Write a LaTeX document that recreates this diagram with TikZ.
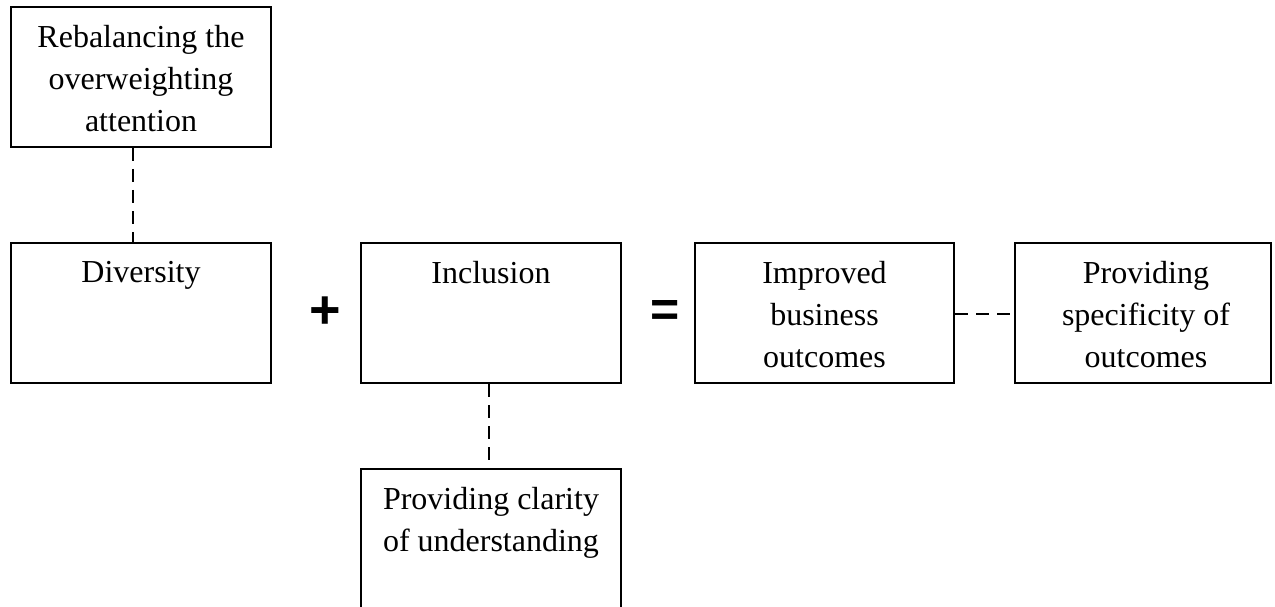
\documentclass[tikz,border=0pt]{standalone}
\usepackage{fontspec}
\setmainfont{Liberation Serif}
\newfontfamily\opfont{Liberation Sans}
\begin{document}
\begin{tikzpicture}[x=1pt,y=-1pt,
  box/.style={draw, line width=2pt, rectangle, inner sep=0pt},
  lbl/.style={anchor=north, inner sep=0pt, align=center, font=\fontsize{32}{42}\selectfont},
  op/.style={inner sep=0pt, font=\opfont\bfseries\fontsize{#1}{#1}\selectfont},
  dashline/.style={line width=2pt, dash pattern=on 13pt off 8pt}]
\clip (0,0) rectangle (1275,607);
% boxes
\node[box, minimum width=260pt, minimum height=140pt] (reb) at (141,77) {};
\node[box, minimum width=260pt, minimum height=140pt] (div) at (141,313) {};
\node[box, minimum width=260pt, minimum height=140pt] (inc) at (491,313) {};
\node[box, minimum width=259pt, minimum height=140pt] (imp) at (824.5,313) {};
\node[box, minimum width=256pt, minimum height=140pt] (spec) at (1143,313) {};
\node[box, minimum width=260pt, minimum height=151pt] (cla) at (491,544.5) {};
% texts
\node[lbl] (rebt) at ([yshift=-19pt]reb.north) {Rebalancing the\\overweighting\\attention};
\node[lbl] (divt) at ([yshift=-19pt]div.north) {Diversity};
\node[lbl] (inct) at ([yshift=-19pt]inc.north) {Inclusion};
\node[lbl] (impt) at ([yshift=-19pt]imp.north) {Improved\\business\\outcomes};
\node[lbl] (spect) at ([xshift=3pt,yshift=-19pt]spec.north) {Providing\\specificity of\\outcomes};
\node[lbl] (clat) at ([yshift=-19pt]cla.north) {Providing clarity\\of understanding};
% operators
\node[op=54] (plus) at (325,313) {+};
\node[op=50] (eq) at (665,313) {=};
% connectors
\draw[dashline] ([xshift=-8pt]reb.south) -- ([xshift=-8pt]div.north);
\draw[dashline] ([xshift=-2pt]inc.south) -- ([xshift=-2pt]cla.north);
\draw[dashline] ([yshift=-1pt]imp.east) -- ([yshift=-1pt]spec.west);
\end{tikzpicture}
\end{document}
